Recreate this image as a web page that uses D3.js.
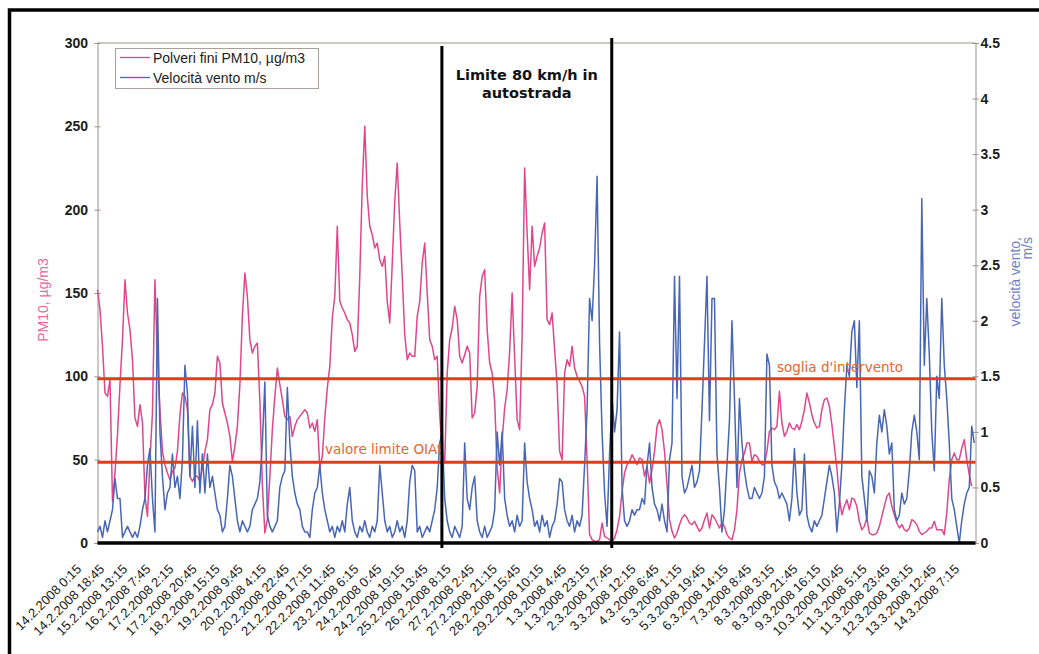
<!DOCTYPE html>
<html>
<head>
<meta charset="utf-8">
<script src="https://cdn.jsdelivr.net/npm/d3@7"></script>
<style>
  html, body { margin: 0; padding: 0; background: #fff; }
  svg { display: block; }
</style>
</head>
<body>
<svg id="chart" width="1039" height="654"></svg>
<script>
// PM10 concentration (µg/m3), one value every 2 hours from 14.2.2008 0:15
const pm10 = [
  152,140,118,90,88,98,25,42,65,95,122,
  158,138,128,110,75,70,83,72,28,16,
  50,78,158,110,80,55,47,42,38,
  43,45,55,77,90,88,80,40,37,40,
  40,37,45,55,62,80,83,90,112,108,
  84,78,72,64,49,58,70,95,136,
  162,148,122,114,118,120,85,35,6,14,
  40,68,88,105,95,86,76,74,76,
  64,70,74,76,78,80,78,69,72,67,
  74,45,52,75,93,106,135,148,190,145,
  141,138,134,132,125,115,118,160,215,
  250,208,190,185,177,180,170,166,172,145,
  132,168,205,228,192,160,125,110,114,112,
  112,136,145,168,180,150,122,118,110,
  112,77,55,48,102,122,129,142,134,112,
  108,113,118,114,75,78,94,148,160,164,
  128,108,102,85,45,30,62,81,92,
  115,150,111,74,68,125,225,186,152,190,
  166,172,177,186,192,134,131,138,116,
  95,55,50,102,110,106,118,105,100,97,
  94,88,50,5,2,1,1,2,12,4,
  3,2,1,3,8,16,31,42,47,
  49,53,50,47,51,50,40,46,36,44,
  55,70,74,68,55,35,14,7,3,
  6,11,15,17,15,12,11,13,10,7,
  9,14,18,9,17,15,12,9,12,10,
  5,3,2,8,20,42,50,54,60,
  60,49,53,52,49,47,47,55,67,69,
  68,70,91,72,64,67,72,69,68,71,
  68,73,80,90,84,77,72,69,70,
  80,86,87,82,71,58,45,27,17,22,
  26,20,27,26,22,13,8,10,15,
  6,5,5,6,10,16,22,28,30,22,
  17,12,9,11,8,7,9,14,13,11,
  7,5,6,7,9,9,13,8,8,
  8,5,18,38,50,54,50,50,57,62,
  50,41,34
];

// Wind speed (m/s), same 2-hour sampling
const wind = [
  0.1,0.15,0.05,0.2,0.1,0.2,0.3,0.58,0.4,0.4,0.05,
  0.1,0.15,0.1,0.05,0.1,0.05,0.15,0.3,0.4,0.7,
  0.85,0.4,0.1,2.2,1.0,0.6,0.3,0.45,0.5,
  0.8,0.5,0.6,0.4,0.75,1.6,1.35,0.6,1.05,0.5,
  1.1,0.45,0.8,0.45,0.8,0.5,0.6,0.45,0.3,0.25,
  0.1,0.15,0.4,0.7,0.6,0.4,0.2,0.1,0.2,
  0.15,0.1,0.15,0.3,0.35,0.4,0.55,0.9,1.45,0.25,
  0.15,0.1,0.15,0.2,0.5,0.6,0.65,1.4,0.9,
  0.6,0.45,0.35,0.3,0.15,0.1,0.1,0.05,0.3,0.45,
  0.5,0.7,0.45,0.3,0.2,0.1,0.15,0.05,0.15,0.1,
  0.2,0.1,0.35,0.5,0.2,0.1,0.05,0.15,0.1,
  0.2,0.1,0.05,0.15,0.1,0.2,0.7,0.45,0.2,0.1,
  0.15,0.05,0.1,0.2,0.1,0.15,0.05,0.2,0.55,0.7,
  0.65,0.1,0.15,0.05,0.1,0.15,0.1,0.2,0.3,
  0.5,0.9,1.0,0.4,0.2,0.1,0.05,0.15,0.1,0.05,
  0.15,0.9,0.4,0.3,0.5,0.6,0.2,0.1,0.05,0.15,
  0.05,0.1,0.15,0.3,1.0,0.7,1.0,0.4,0.25,
  0.15,0.2,0.1,0.25,0.15,0.2,0.9,0.55,0.4,0.3,
  0.15,0.2,0.1,0.25,0.15,0.2,0.05,0.15,0.2,
  0.35,0.58,0.55,0.3,0.2,0.15,0.25,0.1,0.2,0.15,
  0.25,0.7,1.2,2.2,2.0,2.5,3.3,1.8,1.0,0.45,
  0.15,0.8,1.3,1.0,1.2,1.9,0.5,0.2,0.15,
  0.2,0.3,0.25,0.3,0.3,0.4,0.35,0.7,0.9,0.5,
  0.35,0.3,0.2,0.35,0.2,0.1,0.75,0.9,2.4,
  1.3,2.4,0.6,0.45,0.5,0.6,0.7,0.5,0.55,0.65,
  1.2,1.8,2.4,1.1,2.2,2.2,0.8,0.5,0.1,0.3,
  0.7,1.1,2.0,1.3,0.5,1.3,0.9,0.65,0.5,
  0.4,0.4,0.5,0.45,0.4,0.45,0.6,1.7,1.6,0.7,
  0.55,0.5,0.4,0.45,0.4,0.35,0.2,0.4,0.85,0.45,
  0.25,0.3,0.8,0.25,0.15,0.1,0.2,0.15,0.2,
  0.25,0.4,0.55,0.7,0.6,0.45,0.1,0.35,0.7,1.2,
  1.6,1.5,1.9,2.0,1.4,2.0,0.6,0.4,0.2,
  0.65,0.6,0.45,0.9,1.15,1.0,1.2,1.05,0.8,0.9,
  0.3,0.2,0.25,0.45,0.35,0.4,0.65,1.0,1.15,1.0,
  0.75,3.1,1.6,2.2,1.7,1.0,0.65,1.5,1.3,
  2.2,1.6,1.3,0.9,0.4,0.3,0.15,0.0,0.2,0.35,
  0.45,0.5,1.05,0.9
];

const sampleStart = "14.2.2008 0:15";
const sampleStepHours = 2;

const tickLabels = [
  "14.2.2008 0:15","14.2.2008 18:45","15.2.2008 13:15","16.2.2008 7:45",
  "17.2.2008 2:15","17.2.2008 20:45","18.2.2008 15:15","19.2.2008 9:45",
  "20.2.2008 4:15","20.2.2008 22:45","21.2.2008 17:15","22.2.2008 11:45",
  "23.2.2008 6:15","24.2.2008 0:45","24.2.2008 19:15","25.2.2008 13:45",
  "26.2.2008 8:15","27.2.2008 2:45","27.2.2008 21:15","28.2.2008 15:45",
  "29.2.2008 10:15","1.3.2008 4:45","1.3.2008 23:15","2.3.2008 17:45",
  "3.3.2008 12:15","4.3.2008 6:45","5.3.2008 1:15","5.3.2008 19:45",
  "6.3.2008 14:15","7.3.2008 8:45","8.3.2008 3:15","8.3.2008 21:45",
  "9.3.2008 16:15","10.3.2008 10:45","11.3.2008 5:15","11.3.2008 23:45",
  "12.3.2008 18:15","13.3.2008 12:45","14.3.2008 7:15"
];

const pm10Ticks = [0, 50, 100, 150, 200, 250, 300];
const windTicks = [0, 0.5, 1, 1.5, 2, 2.5, 3, 3.5, 4, 4.5];

// Reference levels for PM10
const thresholdValues = [98.5, 48.5];
const thresholdLabels = ["soglia d'intervento", "valore limite OIAt"];

// Period with the 80 km/h motorway limit
const limitPeriod = ["25.2.2008 12:00", "2.3.2008 4:00"];
const limitText = ["Limite 80 km/h in", "autostrada"];

const seriesNames = ["Polveri fini PM10, µg/m3", "Velocità vento m/s"];
const pmColor = "#e0478b";
const windColor = "#4866b6";
const redLine = "#e8391c";
const redText = "#e8662c";

const parse = d3.utcParse("%d.%m.%Y %H:%M");
const t0 = parse(sampleStart);
const sampleTime = i => new Date(t0.getTime() + i * sampleStepHours * 3600e3);

const plot = { left: 97.5, right: 975.5, top: 43, bottom: 543 };

const x = d3.scaleUtc()
  .domain([parse(tickLabels[0]), parse(tickLabels[tickLabels.length - 1])])
  .range([plot.left, plot.right]);
const yL = d3.scaleLinear().domain([0, 300]).range([plot.bottom, plot.top]);
const yR = d3.scaleLinear().domain([0, 4.5]).range([plot.bottom, plot.top]);

const svg = d3.select("#chart");
const font = "'Liberation Sans', Arial, Helvetica, sans-serif";

// outer frame
svg.append("path")
  .attr("d", "M9.5,654 V10 H1039")
  .attr("fill", "none").attr("stroke", "#000").attr("stroke-width", 3.5);

// plot frame: top edge
svg.append("line")
  .attr("x1", plot.left).attr("x2", plot.right)
  .attr("y1", plot.top).attr("y2", plot.top)
  .attr("stroke", "#9a918c").attr("stroke-width", 1);

// left axis
const axL = svg.append("g")
  .attr("transform", `translate(${plot.left},0)`)
  .call(d3.axisLeft(yL).tickValues(pm10Ticks).tickSize(3).tickPadding(6.5).tickFormat(d3.format("d")));
axL.select(".domain").attr("stroke", "#9a918c");
axL.selectAll(".tick line").attr("x1", 3).attr("x2", -3).attr("stroke", "#9a918c");
axL.selectAll(".tick text")
  .attr("font-family", font).attr("font-size", 14).attr("font-weight", "bold").attr("fill", "#1c1c1c");

// right axis
const axR = svg.append("g")
  .attr("transform", `translate(${plot.right},0)`)
  .call(d3.axisRight(yR).tickValues(windTicks).tickSize(3).tickPadding(2).tickFormat(d => d3.format("")(d)));
axR.select(".domain").attr("stroke", "#9a918c");
axR.selectAll(".tick line").attr("x1", -3).attr("x2", 3).attr("stroke", "#9a918c");
axR.selectAll(".tick text")
  .attr("font-family", font).attr("font-size", 14).attr("font-weight", "bold").attr("fill", "#1c1c1c");

// axis titles
svg.append("text")
  .attr("transform", "translate(48,300) rotate(-90)")
  .attr("text-anchor", "middle")
  .attr("font-family", font).attr("font-size", 14).attr("fill", "#e46a9f")
  .text("PM10, µg/m3");
svg.append("text")
  .attr("transform", "translate(1020,237) rotate(-90)")
  .attr("text-anchor", "end")
  .attr("font-family", font).attr("font-size", 14).attr("fill", "#6b7fc4")
  .text("velocità vento,");
svg.append("text")
  .attr("transform", "translate(1032,237) rotate(-90)")
  .attr("text-anchor", "end")
  .attr("font-family", font).attr("font-size", 14).attr("fill", "#6b7fc4")
  .text("m/s");

// series
const linePm = d3.line().x((d, i) => x(sampleTime(i))).y(d => yL(d));
const lineWind = d3.line().x((d, i) => x(sampleTime(i))).y(d => yR(d));

svg.append("path").datum(pm10)
  .attr("d", linePm).attr("fill", "none")
  .attr("stroke", pmColor).attr("stroke-width", 1.5).attr("stroke-linejoin", "round");
svg.append("path").datum(wind)
  .attr("d", lineWind).attr("fill", "none")
  .attr("stroke", windColor).attr("stroke-width", 1.5).attr("stroke-linejoin", "round");

// x axis baseline
svg.append("line")
  .attr("x1", plot.left).attr("x2", plot.right)
  .attr("y1", yL(0)).attr("y2", yL(0))
  .attr("stroke", "#000").attr("stroke-width", 3.5);

// date labels
svg.append("g").selectAll("text")
  .data(tickLabels)
  .join("text")
  .attr("transform", d => `translate(${x(parse(d)) - 15.5},570) rotate(-45)`)
  .attr("text-anchor", "end")
  .attr("font-family", font).attr("font-size", 13).attr("fill", "#1c1c1c")
  .text(d => d);

// threshold lines
const thr = svg.append("g");
thr.selectAll("line")
  .data(thresholdValues)
  .join("line")
  .attr("x1", plot.left).attr("x2", plot.right)
  .attr("y1", d => yL(d)).attr("y2", d => yL(d))
  .attr("stroke", redLine).attr("stroke-width", 3);

const labelPos = [{ x: 777, dy: -7 }, { x: 325, dy: -8 }];
thr.selectAll("text")
  .data(thresholdValues)
  .join("text")
  .attr("x", (d, i) => labelPos[i].x)
  .attr("y", (d, i) => yL(d) + labelPos[i].dy)
  .attr("font-family", "'DejaVu Sans', Verdana, sans-serif")
  .attr("font-size", 13.5).attr("fill", redText)
  .text((d, i) => thresholdLabels[i]);

// 80 km/h period boundaries
const lim = svg.append("g");
lim.append("line")
  .attr("x1", x(parse(limitPeriod[0]))).attr("x2", x(parse(limitPeriod[0])))
  .attr("y1", 46).attr("y2", 548)
  .attr("stroke", "#000").attr("stroke-width", 3);
lim.append("line")
  .attr("x1", x(parse(limitPeriod[1]))).attr("x2", x(parse(limitPeriod[1])))
  .attr("y1", 38).attr("y2", 548)
  .attr("stroke", "#000").attr("stroke-width", 3);
const midX = (x(parse(limitPeriod[0])) + x(parse(limitPeriod[1]))) / 2;
lim.selectAll("text")
  .data(limitText)
  .join("text")
  .attr("x", midX)
  .attr("y", (d, i) => 80 + i * 18)
  .attr("text-anchor", "middle")
  .attr("font-family", "'DejaVu Sans', Verdana, sans-serif")
  .attr("font-weight", "bold").attr("font-size", 14.5).attr("fill", "#111")
  .text(d => d);

// legend
const lg = svg.append("g");
lg.append("rect")
  .attr("x", 115.5).attr("y", 48.5).attr("width", 203).attr("height", 40)
  .attr("fill", "#fff").attr("stroke", "#a8a09b").attr("stroke-width", 1);
const legendColors = [pmColor, windColor];
seriesNames.forEach((name, i) => {
  const yy = 57.5 + i * 20;
  lg.append("line")
    .attr("x1", 120).attr("x2", 150).attr("y1", yy).attr("y2", yy)
    .attr("stroke", legendColors[i]).attr("stroke-width", 1.3);
  lg.append("text")
    .attr("x", 153).attr("y", yy + 5)
    .attr("font-family", font).attr("font-size", 14).attr("fill", "#1c1c1c")
    .text(name);
});
</script>
</body>
</html>
